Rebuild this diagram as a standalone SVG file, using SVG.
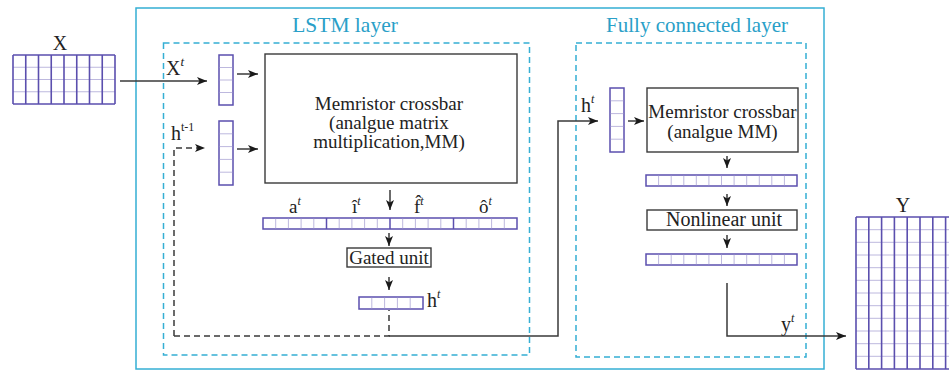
<svg xmlns="http://www.w3.org/2000/svg" width="949" height="372" viewBox="0 0 949 372">
<style>
.cy{fill:none;stroke:#35afd4;stroke-width:1.5}
.cyd{fill:none;stroke:#35afd4;stroke-width:1.5;stroke-dasharray:6 4}
.ln{fill:none;stroke:#3a3a3a;stroke-width:1.5}
.lnd{fill:none;stroke:#3a3a3a;stroke-width:1.5;stroke-dasharray:6 4}
.box{fill:#fff;stroke:#3a3a3a;stroke-width:1.4}
.vec{fill:#fff;stroke:#5b4fae;stroke-width:1.5}
.cell{fill:none;stroke:#bdb8de;stroke-width:1}
.gv{fill:none;stroke:#5b4fae;stroke-width:1.6}
.gh{fill:none;stroke:#bdb8de;stroke-width:1}
.t{font-family:"Liberation Serif","Times New Roman",serif;fill:#222}
.tc{font-family:"Liberation Serif","Times New Roman",serif;fill:#2a9fc8}
</style>
<defs>
<marker id="ah" markerUnits="userSpaceOnUse" markerWidth="10" markerHeight="8" refX="10" refY="4" orient="auto">
<path d="M0,0 L10,4 L0,8 L2.5,4 z" fill="#1a1a1a"/>
</marker>
</defs>

<!-- containers -->
<g id="outer">
<rect class="cy" x="136" y="8" width="688" height="361"/>
<text class="tc" x="345" y="32" font-size="21.5" text-anchor="middle">LSTM layer</text>
<text class="tc" x="697" y="32" font-size="21" text-anchor="middle">Fully connected layer</text>
</g>
<g id="lstm-layer"><rect class="cyd" x="163.5" y="43" width="366" height="312"/></g>
<g id="fc-layer"><rect class="cyd" x="576" y="43" width="230" height="314"/></g>

<!-- input X -->
<g id="X">
<text class="t" x="60" y="50" font-size="20" text-anchor="middle">X</text>
<rect x="13" y="55" width="102" height="49" fill="#fff"/>
<path class="gh" d="M13,67.25H115M13,79.5H115M13,91.75H115"/>
<path class="gv" d="M13,55V104M25.75,55V104M38.5,55V104M51.25,55V104M64,55V104M76.75,55V104M89.5,55V104M102.25,55V104M115,55V104M13,55H115M13,104H115"/>
</g>

<!-- Y output -->
<g id="Y">
<text class="t" x="903" y="212" font-size="20" text-anchor="middle">Y</text>
<rect x="856" y="217" width="102" height="152" fill="#fff"/>
<path class="gh" d="M856,229.7H958M856,242.3H958M856,255H958M856,267.7H958M856,280.3H958M856,293H958M856,305.7H958M856,318.3H958M856,331H958M856,343.7H958M856,356.3H958"/>
<path class="gv" d="M856,217V369M868.8,217V369M881.6,217V369M894.4,217V369M907.2,217V369M920,217V369M932.8,217V369M945.6,217V369M856,217H958M856,369H958"/>
</g>

<!-- LSTM input vectors -->
<g id="xt-vec">
<text class="t" x="166" y="75" font-size="20">X<tspan dy="-9" font-size="13" font-style="italic">t</tspan></text>
<rect class="vec" x="219" y="55" width="14" height="50"/>
<path class="cell" d="M219.8,67.5H232.2M219.8,80H232.2M219.8,92.5H232.2"/>
</g>
<g id="ht1-vec">
<text class="t" x="171" y="140" font-size="20">h<tspan dy="-9" font-size="12">t-1</tspan></text>
<rect class="vec" x="219" y="121" width="14" height="64"/>
<path class="cell" d="M219.8,133.8H232.2M219.8,146.6H232.2M219.8,159.4H232.2M219.8,172.2H232.2"/>
</g>

<g id="crossbar1">
<rect class="box" x="265" y="54" width="252" height="129"/>
<text class="t" x="389" y="110" font-size="19" text-anchor="middle">Memristor crossbar</text>
<text class="t" x="389" y="129" font-size="19" text-anchor="middle">(analgue matrix</text>
<text class="t" x="389" y="148" font-size="19" text-anchor="middle">multiplication,MM)</text>
</g>

<g id="gates-vec">
<text class="t" x="289" y="213" font-size="19">a<tspan dy="-8" font-size="12" font-style="italic">t</tspan></text>
<text class="t" x="352" y="213" font-size="19">î<tspan dy="-8" font-size="12" font-style="italic">t</tspan></text>
<text class="t" x="414" y="213" font-size="19">f̂<tspan dy="-8" font-size="12" font-style="italic">t</tspan></text>
<text class="t" x="479" y="213" font-size="19">ô<tspan dy="-8" font-size="12" font-style="italic">t</tspan></text>
<rect class="vec" x="263" y="218" width="254" height="11"/>
<path class="cell" d="M275.7,218.8V228.2M288.4,218.8V228.2M301.1,218.8V228.2M313.8,218.8V228.2M339.2,218.8V228.2M351.9,218.8V228.2M364.6,218.8V228.2M377.3,218.8V228.2M402.7,218.8V228.2M415.4,218.8V228.2M428.1,218.8V228.2M440.8,218.8V228.2M466.2,218.8V228.2M478.9,218.8V228.2M491.6,218.8V228.2M504.3,218.8V228.2"/>
<path d="M326.5,218V229M390,218V229M453.5,218V229" stroke="#5b4fae" stroke-width="1.5"/>
</g>

<g id="gated-unit">
<rect class="box" x="347" y="248" width="84" height="19"/>
<text class="t" x="389" y="263.5" font-size="19" text-anchor="middle">Gated unit</text>
</g>

<g id="ht-vec">
<rect class="vec" x="359" y="297" width="64" height="12"/>
<path class="cell" d="M371.8,297.8V308.2M384.6,297.8V308.2M397.4,297.8V308.2M410.2,297.8V308.2"/>
<text class="t" x="427" y="307" font-size="20">h<tspan dy="-9" font-size="12" font-style="italic">t</tspan></text>
</g>

<!-- FC layer -->
<g id="fc-ht-vec">
<text class="t" x="581" y="112" font-size="20">h<tspan dy="-9" font-size="12" font-style="italic">t</tspan></text>
<rect class="vec" x="610" y="88" width="14" height="64"/>
<path class="cell" d="M610.8,100.8H623.2M610.8,113.6H623.2M610.8,126.4H623.2M610.8,139.2H623.2"/>
</g>

<g id="crossbar2">
<rect class="box" x="647" y="88" width="151" height="64"/>
<text class="t" x="722.5" y="118" font-size="19" text-anchor="middle">Memristor crossbar</text>
<text class="t" x="722.5" y="138" font-size="19" text-anchor="middle">(analgue MM)</text>
</g>

<g id="fc-vec1">
<rect class="vec" x="646" y="175" width="151" height="11"/>
<path class="cell" d="M658.6,175.8V185.2M671.2,175.8V185.2M683.8,175.8V185.2M696.3,175.8V185.2M708.9,175.8V185.2M721.5,175.8V185.2M734.1,175.8V185.2M746.7,175.8V185.2M759.3,175.8V185.2M771.8,175.8V185.2M784.4,175.8V185.2"/>
</g>

<g id="nonlinear-unit">
<rect class="box" x="647" y="210" width="150" height="20"/>
<text class="t" x="724" y="226" font-size="20" text-anchor="middle">Nonlinear unit</text>
</g>

<g id="fc-vec2">
<rect class="vec" x="646" y="254" width="151" height="11"/>
<path class="cell" d="M658.6,254.8V264.2M671.2,254.8V264.2M683.8,254.8V264.2M696.3,254.8V264.2M708.9,254.8V264.2M721.5,254.8V264.2M734.1,254.8V264.2M746.7,254.8V264.2M759.3,254.8V264.2M771.8,254.8V264.2M784.4,254.8V264.2"/>
</g>

<text class="t" x="781" y="331" font-size="20">y<tspan dy="-9" font-size="12" font-style="italic">t</tspan></text>

<!-- connectors -->
<g id="connectors">
<path class="ln" d="M120,81H207" marker-end="url(#ah)"/>
<path class="ln" d="M237,74H258" marker-end="url(#ah)"/>
<path class="ln" d="M237,149H258" marker-end="url(#ah)"/>
<path class="lnd" d="M174,336V148H205" marker-end="url(#ah)"/>
<path class="lnd" d="M174,336H389V310"/>
<path class="ln" d="M390,190V210" marker-end="url(#ah)"/>
<path class="ln" d="M389,233V246" marker-end="url(#ah)"/>
<path class="ln" d="M389,277V290" marker-end="url(#ah)"/>
<path class="ln" d="M389,336H558V121H598" marker-end="url(#ah)"/>
<path class="ln" d="M628,121H644" marker-end="url(#ah)"/>
<path class="ln" d="M727,156V168" marker-end="url(#ah)"/>
<path class="ln" d="M727,194V206" marker-end="url(#ah)"/>
<path class="ln" d="M727,235V248" marker-end="url(#ah)"/>
<path class="ln" d="M727,283V336H846" marker-end="url(#ah)"/>
</g>
</svg>
